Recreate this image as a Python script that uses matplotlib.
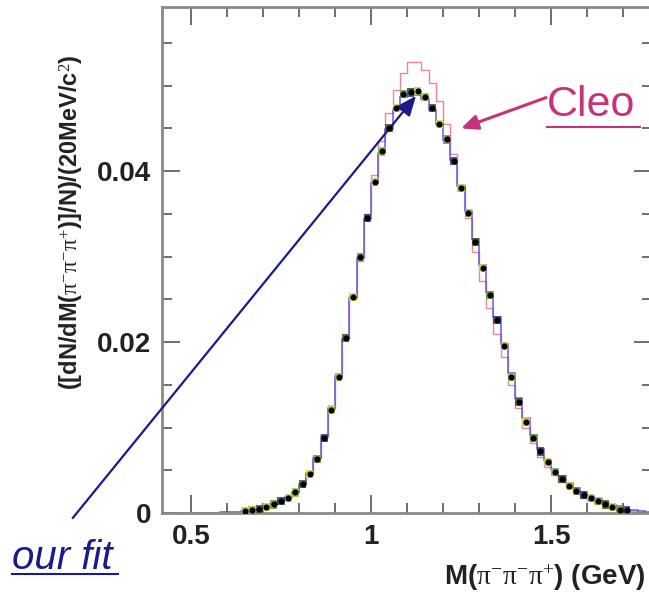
import numpy as np
import matplotlib
matplotlib.use('Agg')
import matplotlib.pyplot as plt

plt.rcParams['font.family'] = ['Liberation Sans', 'DejaVu Sans']
plt.rcParams['mathtext.fontset'] = 'custom'
plt.rcParams['mathtext.rm'] = 'Liberation Serif'
plt.rcParams['mathtext.default'] = 'rm'

# 20 MeV bins, 0.42 - 1.78 GeV
edges = np.round(np.arange(0.42, 1.7801, 0.02), 3)
centers = 0.5 * (edges[:-1] + edges[1:])

data = [0, 0, 0, 0, 0, 0, 0.00001,
        0.00003, 0.00006, 0.0001, 0.00015, 0.00022, 0.0003, 0.00045, 0.0007,
        0.0010, 0.0014, 0.0018, 0.0024, 0.0034, 0.0046, 0.0063, 0.0088,
        0.0121, 0.0159, 0.0205, 0.0253, 0.0299, 0.0345, 0.0387, 0.0423,
        0.0450, 0.0474, 0.0490, 0.0492, 0.0494, 0.0487, 0.0474, 0.0455,
        0.0437, 0.0412, 0.0380, 0.0351, 0.0317, 0.0287, 0.0255, 0.0226,
        0.0195, 0.0159, 0.0130, 0.0107, 0.0088, 0.0072, 0.0060, 0.0048,
        0.0040, 0.0032, 0.0026, 0.0021, 0.0018, 0.0014, 0.0010, 0.0007,
        0.0004, 0.0003, 0.0002, 0.0001, 0.00005]

our_fit = [0, 0, 0, 0, 0, 0, 0.00001,
           0.00003, 0.00006, 0.0001, 0.00015, 0.00022, 0.0003, 0.00045, 0.0007,
           0.0010, 0.0014, 0.0019, 0.0025, 0.0034, 0.0047, 0.0064, 0.0090,
           0.0123, 0.0160, 0.0204, 0.0251, 0.0298, 0.0344, 0.0386, 0.0421,
           0.0449, 0.0472, 0.0487, 0.0490, 0.0489, 0.0484, 0.0472, 0.0455,
           0.0436, 0.0413, 0.0383, 0.0353, 0.0320, 0.0290, 0.0258, 0.0229,
           0.0198, 0.0164, 0.0135, 0.0111, 0.0091, 0.0075, 0.0062, 0.0051,
           0.0043, 0.0035, 0.0029, 0.0024, 0.0020, 0.0016, 0.0012, 0.0009,
           0.0006, 0.0004, 0.0003, 0.0002, 0.0001]

cleo = [0, 0, 0, 0, 0, 0, 0.00001,
        0.00003, 0.00006, 0.0001, 0.00016, 0.00024, 0.00033, 0.0005, 0.0008,
        0.0011, 0.0015, 0.0019, 0.0025, 0.0035, 0.0047, 0.0064, 0.0089,
        0.0122, 0.0160, 0.0205, 0.0255, 0.0300, 0.0350, 0.0395, 0.0435,
        0.0468, 0.0495, 0.0515, 0.0528, 0.0528, 0.0518, 0.0503, 0.0482,
        0.0455, 0.0420, 0.0383, 0.0345, 0.0305, 0.0272, 0.0240, 0.0210,
        0.0182, 0.0150, 0.0123, 0.0100, 0.0082, 0.0066, 0.0054, 0.0044,
        0.0036, 0.0029, 0.0023, 0.0018, 0.0015, 0.0012, 0.0009, 0.0006,
        0.0004, 0.0003, 0.0002, 0.0001, 0.00005]

box_colors = ['#8cc43c', '#3d5a2a', '#d8cf3c', '#6a9a3a', '#3a3a7a', '#b9c94a']

fig = plt.figure(figsize=(6.49, 5.96), dpi=100)
ax = fig.add_axes([162 / 649, 83 / 596, 490 / 649, 506 / 596])

ax.stairs(cleo, edges, color='#e8707e', lw=1.0, alpha=0.85)
ax.stairs(our_fit, edges, color='#6a5ad0', lw=1.1)

data = np.array(data)
mask = data > 0.0002
for i in np.where(mask)[0]:
    ax.add_patch(plt.Rectangle((centers[i] - 0.01, data[i] - 0.00048), 0.02, 0.00096,
                               facecolor=box_colors[i % len(box_colors)],
                               edgecolor='none', alpha=0.85, zorder=3))
ax.plot(centers[mask], data[mask], 'o', color='black', ms=3.4, zorder=4)

ax.set_xlim(0.42, 1.78)
ax.set_ylim(0, 0.0592)
ax.set_xticks([0.5, 1.0, 1.5])
ax.set_xticklabels(['0.5', '1', '1.5'])
ax.set_xticks(np.arange(0.5, 1.78, 0.1), minor=True)
ax.set_yticks([0, 0.02, 0.04])
ax.set_yticklabels(['0', '0.02', '0.04'])
ax.set_yticks(np.arange(0, 0.059, 0.005), minor=True)
ax.tick_params(which='both', direction='in', top=True, right=True,
               color='#555555', width=1.2, labelsize=20, pad=8)
ax.tick_params(which='major', length=13)
ax.tick_params(which='minor', length=7)
for lab in ax.get_xticklabels() + ax.get_yticklabels():
    lab.set_fontweight('bold')
    lab.set_color('#222222')
for s in ax.spines.values():
    s.set_color('#8a8a8a')
    s.set_linewidth(2)

fig.text(645 / 649, 1 - 578 / 596, r'M($\pi^{-}\pi^{-}\pi^{+}$) (GeV)',
         ha='right', va='center', fontsize=20, fontweight='bold', color='#222222')
fig.text(72 / 649, 1 - 222 / 596, r'([dN/dM($\pi^{-}\pi^{-}\pi^{+}$)]/N)/(20MeV/c$^{2}$)',
         rotation=90, ha='center', va='center', fontsize=17, fontweight='bold',
         color='#222222')

# annotations
ax.annotate('', xy=(1.125, 0.0488), xytext=(0.172, -0.0006),
            xycoords='data', textcoords='data', annotation_clip=False,
            arrowprops=dict(arrowstyle='-|>,head_length=1.2,head_width=0.5',
                            color='#1a1a8a', lw=1.6, shrinkA=0, shrinkB=0))
ax.annotate('', xy=(1.25, 0.0450), xytext=(1.486, 0.0486),
            xycoords='data', textcoords='data', annotation_clip=False,
            arrowprops=dict(arrowstyle='-|>,head_length=1.0,head_width=0.45',
                            color='#c8327a', lw=2.2, shrinkA=0, shrinkB=0))
fig.text(12 / 649, 1 - 558 / 596, 'our fit', fontsize=29, style='italic',
         color='#1a1a8a', ha='left', va='center')
fig.text(547 / 649, 1 - 105 / 596, 'Cleo', fontsize=31,
         color='#c8327a', ha='left', va='center')
fig.lines.append(plt.Line2D([12 / 649, 118 / 649], [1 - 574 / 596, 1 - 574 / 596],
                            transform=fig.transFigure, color='#1a1a8a', lw=1.5))
fig.lines.append(plt.Line2D([547 / 649, 640 / 649], [1 - 127 / 596, 1 - 127 / 596],
                            transform=fig.transFigure, color='#c8327a', lw=1.5))

fig.savefig('out.png', dpi=100)
